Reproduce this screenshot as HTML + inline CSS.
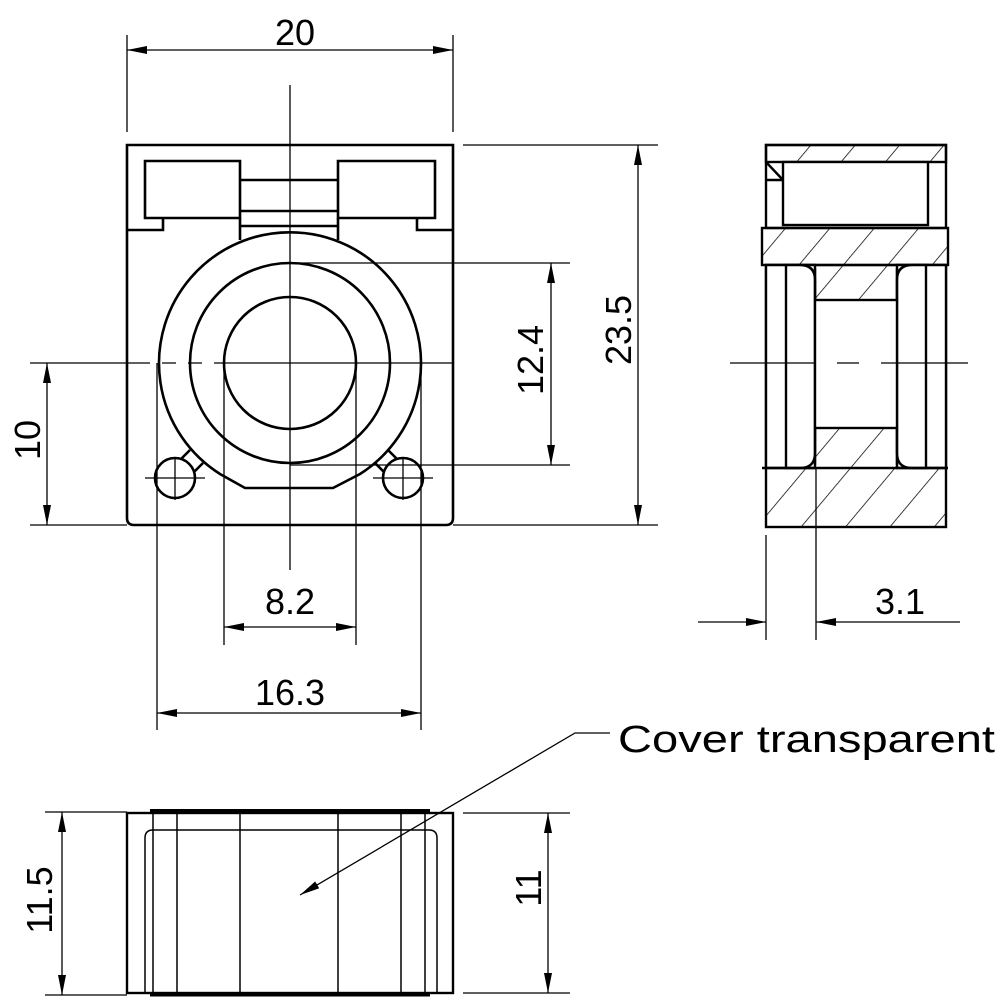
<!DOCTYPE html>
<html><head><meta charset="utf-8"><style>html,body{margin:0;padding:0;background:#fff}svg{display:block}</style></head>
<body>
<svg width="1000" height="1000" viewBox="0 0 1000 1000" xmlns="http://www.w3.org/2000/svg" font-family="Liberation Sans, sans-serif">
<defs>
<marker id="a" viewBox="0 0 20 8" refX="20" refY="4" markerWidth="20" markerHeight="8" markerUnits="userSpaceOnUse" orient="auto-start-reverse"><path d="M0,0 L20,4 L0,8 z" fill="#000"/></marker>
<pattern id="h" patternUnits="userSpaceOnUse" width="34" height="34" patternTransform="rotate(40)"><line x1="0" y1="0" x2="0" y2="34" stroke="#000" stroke-width="1.5"/></pattern>
</defs>
<g fill="none" stroke="#000" stroke-width="1.3">
<line x1="290" y1="85" x2="290" y2="570"/>
<line x1="30" y1="363" x2="453" y2="363" stroke-dasharray="120,12,14,12,14,12,300"/>
<line x1="127" y1="35" x2="127" y2="132"/>
<line x1="453" y1="35" x2="453" y2="132"/>
<line x1="127" y1="50" x2="453" y2="50" marker-start="url(#a)" marker-end="url(#a)"/>
<line x1="463" y1="145" x2="658" y2="145"/>
<line x1="453" y1="525" x2="658" y2="525"/>
<line x1="638" y1="145" x2="638" y2="525" marker-start="url(#a)" marker-end="url(#a)"/>
<line x1="290" y1="263" x2="570" y2="263"/>
<line x1="290" y1="465" x2="570" y2="465"/>
<line x1="551" y1="263" x2="551" y2="465" marker-start="url(#a)" marker-end="url(#a)"/>
<line x1="30" y1="525" x2="127" y2="525"/>
<line x1="47" y1="363" x2="47" y2="525" marker-start="url(#a)" marker-end="url(#a)"/>
<line x1="224" y1="363" x2="224" y2="645"/>
<line x1="356" y1="363" x2="356" y2="645"/>
<line x1="224" y1="627" x2="356" y2="627" marker-start="url(#a)" marker-end="url(#a)"/>
<line x1="157" y1="363" x2="157" y2="730"/>
<line x1="421" y1="363" x2="421" y2="730"/>
<line x1="157" y1="713" x2="421" y2="713" marker-start="url(#a)" marker-end="url(#a)"/>
</g>
<g fill="none" stroke="#000" stroke-width="2.6">
<path d="M127,145 H453 V518 Q453,525 446,525 H134 Q127,525 127,518 Z"/>
<path d="M145,161 H240 V218 H145 Z"/>
<path d="M163,218 V230 H127"/>
<path d="M338,161 H435 V218 H338 Z"/>
<path d="M417,218 V230 H453"/>
<path d="M240,180 H338 M240,211 H338 M240,226 H338 M240,218 V240 M338,218 V240"/>
<path d="M245,488 H333 L360,474 A131,131 0 1 0 220,474 Z"/>
<circle cx="290" cy="363" r="100"/>
<circle cx="290" cy="363" r="66"/>
<circle cx="175" cy="478" r="20"/>
<circle cx="403" cy="478" r="20"/>
<path d="M181,459 L190,450 M194,472 L203,463"/>
<path d="M397,459 L388,450 M384,472 L375,463"/>
</g>
<g stroke="#000" stroke-width="1.3"><line x1="145" y1="478" x2="205" y2="478"/><line x1="175" y1="458" x2="175" y2="500"/><line x1="373" y1="478" x2="433" y2="478"/><line x1="403" y1="458" x2="403" y2="500"/></g>
<g stroke="#000" stroke-width="2.4">
<rect x="766" y="145" width="180" height="17" fill="url(#h)"/>
<rect x="766" y="145" width="180" height="83" fill="none"/>
<rect x="783" y="162" width="145" height="63" fill="#fff"/>
<path d="M766,162 L783,180 M766,180 H783" fill="none"/>
<rect x="762" y="228" width="186" height="37" fill="url(#h)"/>
<rect x="766" y="265" width="180" height="262" fill="url(#h)"/>
<path d="M766,265 H815 V468 H766 Z M897,265 H946 V468 H897 Z" fill="#fff"/>
<path d="M786,265 H800 Q815,265 815,280 V453 Q815,468 800,468 H786 Z" fill="#fff"/>
<path d="M926,265 H912 Q897,265 897,280 V453 Q897,468 912,468 H926 Z" fill="#fff"/>
<rect x="815" y="300" width="82" height="128" fill="#fff"/>
<path d="M762,468 H948" fill="none"/>
<path d="M815,268 V300 M897,268 V300 M815,428 V465 M897,428 V465" fill="none"/>
</g>
<g fill="none" stroke="#000" stroke-width="1.3">
<line x1="730" y1="363" x2="968" y2="363" stroke-dasharray="85,22,22,22,200"/>
<line x1="766" y1="535" x2="766" y2="640"/>
<line x1="816" y1="468" x2="816" y2="640"/>
<line x1="698" y1="622" x2="766" y2="622" marker-end="url(#a)"/>
<line x1="960" y1="622" x2="816" y2="622" marker-end="url(#a)"/>
</g>
<g fill="none" stroke="#000" stroke-width="2.4">
<rect x="127" y="813" width="326" height="180"/>
<path d="M150,811 H430" stroke-width="4"/>
<path d="M150,995 H430" stroke-width="3"/>
<path d="M145,993 V838 Q145,830 153,830 H429 Q437,830 437,838 V993" stroke-width="1.5"/>
<path d="M153,813 V993 M177,813 V993 M240,813 V993 M338,813 V993 M401,813 V993 M425,813 V993" stroke-width="1.5"/>
</g>
<g fill="none" stroke="#000" stroke-width="1.3">
<line x1="45" y1="812" x2="127" y2="812"/>
<line x1="45" y1="995" x2="127" y2="995"/>
<line x1="62" y1="812" x2="62" y2="995" marker-start="url(#a)" marker-end="url(#a)"/>
<line x1="463" y1="813" x2="570" y2="813"/>
<line x1="463" y1="993" x2="570" y2="993"/>
<line x1="548" y1="813" x2="548" y2="993" marker-start="url(#a)" marker-end="url(#a)"/>
<polyline points="610,733 575,733 300,895" marker-end="url(#a)"/>
</g>
<g fill="#000" font-size="36">
<text x="295" y="45" text-anchor="middle">20</text>
<text x="290" y="614" text-anchor="middle">8.2</text>
<text x="290" y="705" text-anchor="middle">16.3</text>
<text x="900" y="614" text-anchor="middle">3.1</text>
<text transform="translate(631,330) rotate(-90)" text-anchor="middle">23.5</text>
<text transform="translate(543,360) rotate(-90)" text-anchor="middle">12.4</text>
<text transform="translate(40,440) rotate(-90)" text-anchor="middle">10</text>
<text transform="translate(52,900) rotate(-90)" text-anchor="middle">11.5</text>
<text transform="translate(541,888) rotate(-90)" text-anchor="middle">11</text>
<text x="618" y="752" font-size="38" textLength="377" lengthAdjust="spacingAndGlyphs">Cover transparent</text>
</g>
</svg>
</body></html>
